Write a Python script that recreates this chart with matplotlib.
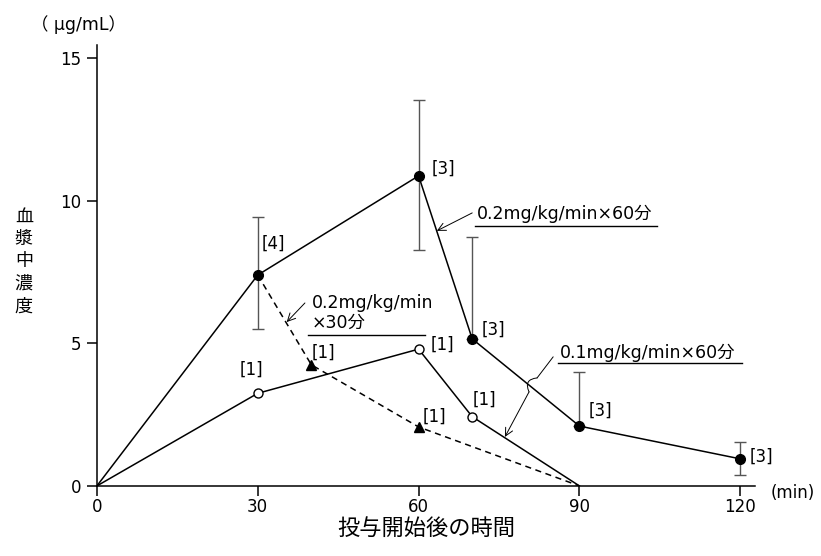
import matplotlib
matplotlib.use("Agg")
from matplotlib import pyplot as plt

plt.rcParams['font.family'] = ['DejaVu Sans', 'Noto Sans CJK JP']

# 0.2mg/kg/min x 60 min (filled circles)
t_a = [0, 30, 60, 70, 90, 120]
c_a = [0, 7.4, 10.88, 5.16, 2.1, 0.95]
sd_a_lo = [0, 1.9, 2.6, 0, 0, 0.57]
sd_a_hi = [0, 2.05, 2.66, 3.57, 1.91, 0.6]
n_a = ["", "[4]", "[3]", "[3]", "[3]", "[3]"]

# 0.1mg/kg/min x 60 min (open circles)
t_b = [0, 30, 60, 70, 90]
c_b = [0, 3.25, 4.8, 2.43, 0]
n_b = ["", "[1]", "[1]", "[1]", ""]

# 0.2mg/kg/min x 30 min (dashed, triangles)
t_c = [30, 40, 60, 90]
c_c = [7.4, 4.25, 2.07, 0]
n_c = ["", "[1]", "[1]", ""]

fig = plt.figure(figsize=(8.21, 5.56), dpi=100)
ax = fig.add_axes([0.118, 0.126, 0.802, 0.793])

ax.plot(t_c, c_c, color='black', lw=1.1, ls=(0, (4, 3)), zorder=2)
ax.plot(t_c[1:3], c_c[1:3], ls='none', marker='^', color='black', ms=6.5, zorder=4)

ax.plot(t_b, c_b, color='black', lw=1.1, zorder=3)
ax.plot(t_b[1:4], c_b[1:4], ls='none', marker='o', mfc='white', mec='black',
        mew=1.0, ms=6.5, zorder=4)

ax.errorbar(t_a[1:], c_a[1:], yerr=[sd_a_lo[1:], sd_a_hi[1:]], fmt='none',
            ecolor='#555555', elinewidth=1.0, capsize=4, capthick=1.0, zorder=2)
ax.plot(t_a, c_a, color='black', lw=1.1, zorder=3)
ax.plot(t_a[1:], c_a[1:], ls='none', marker='o', color='black', ms=7, zorder=5)

# sample size labels
lab_fs = 12
for x, y, s, dx, dy in zip(t_a, c_a, n_a,
                           [0, 0.8, 2.4, 1.7, 1.8, 1.8],
                           [0, 1.1, 0.25, 0.32, 0.55, 0.07]):
    if s:
        ax.text(x + dx, y + dy, s, fontsize=lab_fs, va='center', ha='left')
for x, y, s, dx, dy in zip(t_b, c_b, n_b, [0, -3.3, 2.3, 0.1, 0],
                           [0, 0.82, 0.15, 0.6, 0]):
    if s:
        ax.text(x + dx, y + dy, s, fontsize=lab_fs, va='center', ha='left')
for x, y, s, dx, dy in zip(t_c, c_c, n_c, [0, 0.1, 0.8, 0], [0, 0.42, 0.35, 0]):
    if s:
        ax.text(x + dx, y + dy, s, fontsize=lab_fs, va='center', ha='left')

# annotations
arrow = dict(arrowstyle='->', lw=0.7, color='black', shrinkA=0, shrinkB=0,
             mutation_scale=14)
ann_fs = 12.5
ax.text(70.8, 9.53, "0.2mg/kg/min×60分", fontsize=ann_fs, va='center', ha='left')
ax.plot([70.5, 104.5], [9.13, 9.13], color='black', lw=1.0)
ax.annotate('', xy=(63.4, 8.95), xytext=(70.0, 9.58), arrowprops=arrow)

ax.text(40.1, 6.42, "0.2mg/kg/min", fontsize=ann_fs, va='center', ha='left')
ax.text(40.1, 5.73, "×30分", fontsize=ann_fs, va='center', ha='left')
ax.plot([39.4, 61.2], [5.28, 5.28], color='black', lw=1.0)
ax.annotate('', xy=(35.4, 5.75), xytext=(38.8, 6.42), arrowprops=arrow)

ax.text(86.4, 4.68, "0.1mg/kg/min×60分", fontsize=ann_fs, va='center', ha='left')
ax.plot([86.0, 120.3], [4.3, 4.3], color='black', lw=1.0)
line = dict(arrowstyle='-', lw=0.7, color='black', shrinkA=0, shrinkB=0)
ax.annotate('', xy=(82.1, 3.79), xytext=(85.1, 4.53), arrowprops=line)
ax.annotate('', xy=(80.6, 3.30), xytext=(82.1, 3.79),
            arrowprops=dict(line, connectionstyle='arc3,rad=0.7'))
ax.annotate('', xy=(76.1, 1.72), xytext=(80.6, 3.30), arrowprops=arrow)

# axes
ax.set_xlim(0, 122.8)
ax.set_ylim(0, 15.47)
ax.set_xticks([0, 30, 60, 90, 120])
ax.set_yticks([0, 5, 10, 15])
for s in ['top', 'right']:
    ax.spines[s].set_visible(False)
for s in ['left', 'bottom']:
    ax.spines[s].set_linewidth(1.1)
ax.tick_params(direction='out', length=7, width=1.1, labelsize=12, pad=4)
ax.tick_params(axis='x', pad=2)
ax.set_xlabel("投与開始後の時間", fontsize=16, labelpad=1)
fig.text(0.029, 0.53, "血\n漿\n中\n濃\n度", fontsize=13, ha='center', va='center',
         linespacing=1.32)
fig.text(0.095, 0.955, "（ μg/mL）", fontsize=12.5, ha='center', va='center')
fig.text(0.965, 0.113, "(min)", fontsize=12, ha='center', va='center')

fig.savefig("out.png", dpi=100)
